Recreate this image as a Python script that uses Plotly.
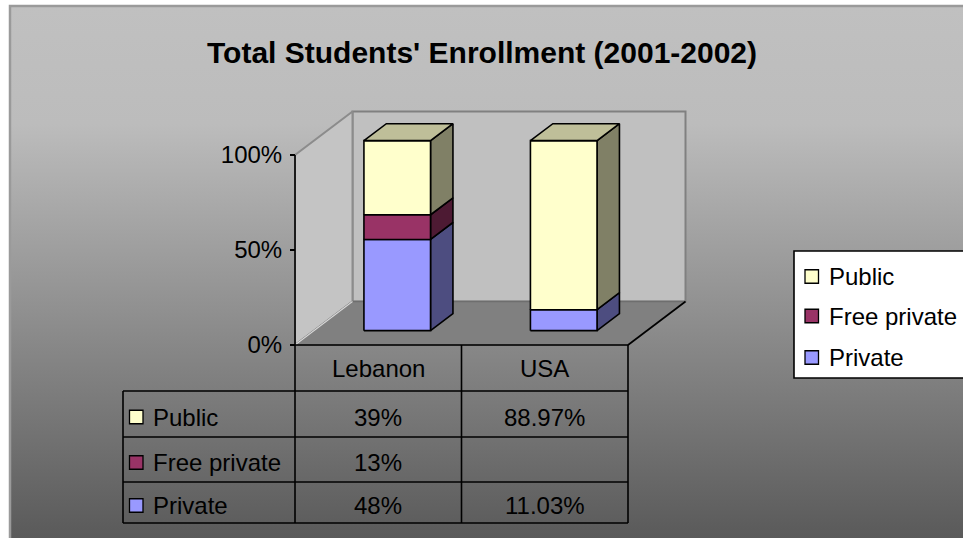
import plotly.graph_objects as go

# ---- data -------------------------------------------------------------
countries = ["Lebanon", "USA"]
series_names = ["Private", "Free private", "Public"]          # stacked bottom -> top
private = [48, 11.03]
free_private = [13, 0]
public = [39, 88.97]
value_decimals = [0, 2]                                        # per country
y_ticks = [0, 50, 100]
title_text = "Total Students' Enrollment (2001-2002)"

series_values = [private, free_private, public]
front_colors = ["#9999FF", "#993366", "#FFFFCC"]
side_colors = ["#4D4D80", "#4D1A33", "#808066"]
top_colors = ["#7373BF", "#73264D", "#BFBF99"]

# ---- geometry of the front plane (pixels of the 963x538 canvas) -------
W, H = 963, 538
FONT = "Liberation Sans, Arial, sans-serif"
X_LEFT_PX, X_RIGHT_PX = 295, 628      # category -0.5 .. 1.5
Y_ZERO_PX, Y_FULL_PX = 345, 155       # 0% .. 100%
xs = (X_RIGHT_PX - X_LEFT_PX) / 2.0
ys = (Y_ZERO_PX - Y_FULL_PX) / 100.0
x_range = [-0.5 - X_LEFT_PX / xs, -0.5 + (W - X_LEFT_PX) / xs]
y_range = [-(H - Y_ZERO_PX) / ys, Y_ZERO_PX / ys]

# oblique depth vector (full depth of the floor)
DX = 57.5 / xs
DY = 43.5 / ys
BAR_W = 0.40
Z0, Z1 = 0.33, 0.72


def px_x(p):
    return x_range[0] + p / xs


def px_y(p):
    return (Y_ZERO_PX - p) / ys


def proj(x, y, z):
    return x + z * DX, y + z * DY


fig = go.Figure()


def polygon(pts3d, fill, line_color="black", width=1.6, gradient=None):
    xy = [proj(*p) for p in pts3d]
    xs_, ys_ = zip(*xy)
    kw = dict(fillcolor=fill) if gradient is None else dict(fillgradient=gradient)
    fig.add_trace(go.Scatter(
        x=list(xs_) + [xs_[0]], y=list(ys_) + [ys_[0]], mode="lines", fill="toself",
        line=dict(color=line_color, width=width), hoverinfo="skip", showlegend=False, **kw))


def line3d(pts3d, color, width):
    xy = [proj(*p) for p in pts3d]
    xs_, ys_ = zip(*xy)
    fig.add_trace(go.Scatter(x=list(xs_), y=list(ys_), mode="lines",
                             line=dict(color=color, width=width),
                             hoverinfo="skip", showlegend=False))


# ---- chart-area background with vertical gradient ---------------------
bx0, bx1 = px_x(10), px_x(W + 4)
by0, by1 = px_y(H + 4), px_y(6)
fig.add_trace(go.Scatter(
    x=[bx0, bx1, bx1, bx0, bx0], y=[by0, by0, by1, by1, by0], mode="lines",
    fill="toself", line=dict(width=0, color="rgba(0,0,0,0)"),
    fillgradient=dict(type="vertical", start=by0, stop=by1,
                      colorscale=[[0, "#595959"], [0.78, "#BCBCBC"], [1, "#C0C0C0"]]),
    hoverinfo="skip", showlegend=False))
line3d([(bx0, by0, 0), (bx0, by1, 0), (bx1, by1, 0)], "#9A9A9A", 2.5)

# ---- walls and floor --------------------------------------------------
xl, xr = -0.5, len(countries) - 0.5
polygon([(xl, 0, 1), (xr, 0, 1), (xr, 100, 1), (xl, 100, 1)], "#C0C0C0", "#808080", 2)
polygon([(xl, 0, 0), (xl, 0, 1), (xl, 100, 1), (xl, 100, 0)], "#C4C4C4", "#8C8C8C", 2)
polygon([(xl, 0, 0), (xr, 0, 0), (xr, 0, 1), (xl, 0, 1)], "#808080", "#6E6E6E", 1.5)
line3d([(xr, 0, 0), (xr, 0, 1)], "black", 1.6)
line3d([(xl, 0, 0), (xl, 0, 1)], "#D8D8D8", 1.2)
line3d([(xl, 0, 0), (xl, 100, 0)], "black", 1.6)

# ---- 3D stacked bars --------------------------------------------------
for i, _ in enumerate(countries):
    x0, x1 = i - BAR_W / 2, i + BAR_W / 2
    base = 0.0
    segs = []
    for s, vals in enumerate(series_values):
        v = vals[i]
        if v > 0:
            segs.append((s, base, base + v))
        base += v
    for k, (s, b, t) in enumerate(segs):
        polygon([(x1, b, Z0), (x1, b, Z1), (x1, t, Z1), (x1, t, Z0)], side_colors[s])
        polygon([(x0, b, Z0), (x1, b, Z0), (x1, t, Z0), (x0, t, Z0)], front_colors[s])
        if k == len(segs) - 1:
            polygon([(x0, t, Z0), (x1, t, Z0), (x1, t, Z1), (x0, t, Z1)], top_colors[s])

# ---- data table under the plot ---------------------------------------
shapes = []
annotations = []
row_edges_px = [345, 391, 437, 482, 523]
row_edges = [px_y(p) for p in row_edges_px]
tab_left = px_x(123)
col_edges = [xl + j for j in range(len(countries) + 1)]
LW = dict(color="black", width=1.6)

# horizontal rules
shapes.append(dict(type="line", xref="x", yref="y", x0=xl, x1=xr, y0=row_edges[0], y1=row_edges[0], line=LW))
for r in row_edges[1:]:
    shapes.append(dict(type="line", xref="x", yref="y", x0=tab_left, x1=xr, y0=r, y1=r, line=LW))
# vertical rules
shapes.append(dict(type="line", xref="x", yref="y", x0=tab_left, x1=tab_left,
                   y0=row_edges[1], y1=row_edges[-1], line=LW))
for c in col_edges:
    shapes.append(dict(type="line", xref="x", yref="y", x0=c, x1=c,
                       y0=row_edges[0], y1=row_edges[-1], line=LW))

TXT = dict(family=FONT, size=24, color="black")
for i, name in enumerate(countries):
    annotations.append(dict(x=i, y=(row_edges[0] + row_edges[1]) / 2, xref="x", yref="y",
                            text=name, showarrow=False, font=TXT))

table_rows = list(range(len(series_names)))[::-1]      # Public, Free private, Private
KEY = 13.5
for r, s in enumerate(table_rows):
    yc = (row_edges[r + 1] + row_edges[r + 2]) / 2
    yc_px = Y_ZERO_PX - yc * ys
    shapes.append(dict(type="rect", xref="x", yref="y",
                       x0=px_x(129.5), x1=px_x(129.5 + KEY),
                       y0=px_y(yc_px + 3 + KEY / 2), y1=px_y(yc_px + 3 - KEY / 2),
                       fillcolor=front_colors[s], line=dict(color="black", width=1.3)))
    annotations.append(dict(x=px_x(151), y=px_y(yc_px + 3), xref="x", yref="y",
                            text=series_names[s], showarrow=False, xanchor="left", font=TXT))
    for i in range(len(countries)):
        v = series_values[s][i]
        label = f"{v:.{value_decimals[i]}f}%" if v > 0 else ""
        annotations.append(dict(x=i, y=px_y(yc_px + 3), xref="x", yref="y", text=label,
                                showarrow=False, font=TXT))

# ---- legend box -------------------------------------------------------
shapes.append(dict(type="rect", xref="x", yref="y", x0=px_x(794), x1=px_x(W + 6),
                   y0=px_y(378), y1=px_y(251), fillcolor="white",
                   line=dict(color="black", width=1.6)))
legend_y_px = [276.5, 316, 357.5]
for k, s in enumerate(table_rows):
    yp = legend_y_px[k]
    shapes.append(dict(type="rect", xref="x", yref="y",
                       x0=px_x(805), x1=px_x(805 + KEY),
                       y0=px_y(yp + KEY / 2), y1=px_y(yp - KEY / 2),
                       fillcolor=front_colors[s], line=dict(color="black", width=1.3)))
    annotations.append(dict(x=px_x(827), y=px_y(yp), xref="x", yref="y", text=series_names[s],
                            showarrow=False, xanchor="left", font=TXT))

# ---- title ------------------------------------------------------------
annotations.append(dict(x=px_x(481.5), y=px_y(52), xref="x", yref="y",
                        text=f"<b>{title_text}</b>", showarrow=False,
                        font=dict(family=FONT, size=30, color="black")))

fig.update_layout(
    width=W, height=H, margin=dict(l=0, r=0, t=0, b=0),
    paper_bgcolor="white", plot_bgcolor="rgba(0,0,0,0)",
    showlegend=False, shapes=shapes, annotations=annotations,
    xaxis=dict(range=x_range, visible=False, fixedrange=True),
    yaxis=dict(range=y_range, anchor="free", position=X_LEFT_PX / W,
               tickvals=y_ticks, ticktext=[f"{v}%" for v in y_ticks],
               ticks="outside", ticklen=5, tickwidth=1.5, tickcolor="black",
               ticklabelstandoff=3,
               showgrid=False, zeroline=False, showline=False, fixedrange=True,
               tickfont=dict(family=FONT, size=24, color="black")),
)

fig.write_html("out.html")
